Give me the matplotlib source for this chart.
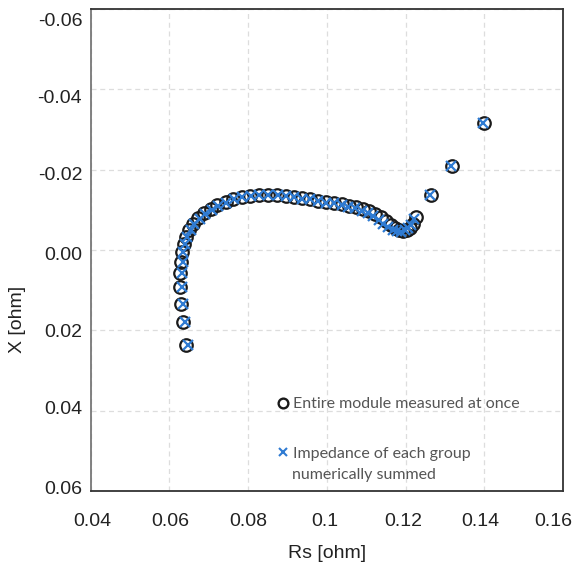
import matplotlib
matplotlib.use("Agg")
import matplotlib.pyplot as plt
import matplotlib.transforms as mtransforms
from matplotlib.lines import Line2D

# Entire module measured at once (circles)
rs_meas = [0.0643, 0.0636, 0.0631, 0.0628, 0.0628, 0.0631, 0.0633, 0.0638, 0.0643,
           0.0651, 0.0661, 0.0674, 0.0689, 0.0705, 0.0722, 0.0743, 0.0763, 0.0784,
           0.0806, 0.0827, 0.0850, 0.0873, 0.0896, 0.0916, 0.0937, 0.0957, 0.0977,
           0.0998, 0.1018, 0.1038, 0.1056, 0.1074, 0.1092, 0.1107, 0.1122, 0.1138,
           0.1150, 0.1163, 0.1173, 0.1184, 0.1194, 0.1204, 0.1212, 0.1219, 0.1227,
           0.1265, 0.1318, 0.1400]
x_meas = [0.0237, 0.0180, 0.0135, 0.0092, 0.0057, 0.0030, 0.0005, -0.0015, -0.0032,
          -0.0050, -0.0065, -0.0080, -0.0092, -0.0102, -0.0112, -0.0119, -0.0127, -0.0132,
          -0.0134, -0.0137, -0.0137, -0.0137, -0.0134, -0.0132, -0.0129, -0.0127, -0.0122,
          -0.0119, -0.0117, -0.0114, -0.0109, -0.0107, -0.0102, -0.0097, -0.0090, -0.0082,
          -0.0072, -0.0062, -0.0055, -0.0050, -0.0047, -0.0050, -0.0055, -0.0065, -0.0082,
          -0.0137, -0.0209, -0.0316]

# Impedance of each group numerically summed (crosses)
rs_sum = [0.0648, 0.0641, 0.0636, 0.0633, 0.0632, 0.0634, 0.0636, 0.0641, 0.0646,
          0.0654, 0.0664, 0.0677, 0.0692, 0.0708, 0.0725, 0.0745, 0.0765, 0.0786,
          0.0808, 0.0829, 0.0852, 0.0875, 0.0897, 0.0917, 0.0938, 0.0958, 0.0978,
          0.0999, 0.1019, 0.1038, 0.1055, 0.1072, 0.1089, 0.1104, 0.1118, 0.1132,
          0.1144, 0.1156, 0.1167, 0.1178, 0.1189, 0.1199, 0.1207, 0.1214, 0.1221,
          0.1262, 0.1315, 0.1396]
x_sum = [0.0237, 0.0180, 0.0135, 0.0092, 0.0057, 0.0030, 0.0005, -0.0015, -0.0032,
         -0.0049, -0.0064, -0.0078, -0.0090, -0.0100, -0.0110, -0.0118, -0.0126, -0.0131,
         -0.0134, -0.0136, -0.0137, -0.0136, -0.0134, -0.0131, -0.0128, -0.0126, -0.0121,
         -0.0118, -0.0116, -0.0112, -0.0107, -0.0104, -0.0098, -0.0092, -0.0084, -0.0075,
         -0.0065, -0.0057, -0.0050, -0.0047, -0.0046, -0.0049, -0.0054, -0.0062, -0.0076,
         -0.0137, -0.0209, -0.0316]

xticks = [0.04, 0.06, 0.08, 0.1, 0.12, 0.14, 0.16]
xticklabels = ["0.04", "0.06", "0.08", "0.1", "0.12", "0.14", "0.16"]
yticks = [-0.06, -0.04, -0.02, 0.0, 0.02, 0.04, 0.06]
yticklabels = ["-0.06", "-0.04", "-0.02", "0.00", "0.02", "0.04", "0.06"]

legend_labels = ["Entire module measured at once", "Impedance of each group"]
legend_extra = "numerically summed"

plt.rcParams['font.family'] = ['Liberation Sans', 'DejaVu Sans']

fig = plt.figure(figsize=(5.78, 5.68), dpi=100)
ax = fig.add_axes([90.5 / 578, 1 - 491 / 568, (563 - 90.5) / 578, (491 - 9) / 568])

ax.plot(rs_meas, x_meas, linestyle='none', marker='o', markersize=9,
        markerfacecolor='none', markeredgecolor='#1a1a1a', markeredgewidth=1.6, zorder=3)
ax.plot(rs_sum, x_sum, linestyle='none', marker='x', markersize=6.5,
        color='#2f7bd2', markeredgewidth=1.6, zorder=4)

ax.set_xlim(0.04, 0.16)
ax.set_ylim(0.06, -0.06)
ax.set_xticks(xticks)
ax.set_xticklabels(xticklabels)
ax.set_yticks(yticks)
ax.set_yticklabels(yticklabels)
ax.tick_params(axis='both', length=0, labelsize=14, colors='#222222')
ax.tick_params(axis='x', pad=16)
ax.tick_params(axis='y', pad=6)
ax.grid(True, linestyle=(0, (4, 3)), color='#dddddd', linewidth=0.9)
ax.set_axisbelow(True)
for side in ['top', 'right', 'bottom', 'left']:
    ax.spines[side].set_color('#333333')
    ax.spines[side].set_linewidth(1.3)
ax.spines['left'].set_color('#777777')

# small label shifts (pixels) to mimic the reference's tick label placement
x_label_shift = [1.5, 0.8, 0, -1.7, -2.5, -4.2, -9.5]
y_label_shift = [-11, -6.7, -4.3, -3, 0.3, 2.7, 4]
for lab, dx in zip(ax.get_xticklabels(), x_label_shift):
    lab.set_transform(lab.get_transform() +
                      mtransforms.ScaledTranslation(dx / 100, 0, fig.dpi_scale_trans))
for lab, dy in zip(ax.get_yticklabels(), y_label_shift):
    lab.set_transform(lab.get_transform() +
                      mtransforms.ScaledTranslation(0, dy / 100, fig.dpi_scale_trans))

ax.set_xlabel("Rs [ohm]", fontsize=14, color='#222222')
ax.set_ylabel("X [ohm]", fontsize=14, color='#222222')
ax.xaxis.set_label_coords(0.5, -0.129)
ax.xaxis.label.set_va('center')
ax.yaxis.set_label_coords(-0.155, 0.355)
ax.yaxis.label.set_va('center')

handles = [
    Line2D([], [], linestyle='none', marker='o', markersize=7, markerfacecolor='none',
           markeredgecolor='#1a1a1a', markeredgewidth=1.7),
    Line2D([], [], linestyle='none', marker='x', markersize=6, color='#2f7bd2',
           markeredgewidth=1.5),
]
leg_font = {'family': 'Lato', 'size': 11.5}
leg = ax.legend(handles, legend_labels, loc='upper left', bbox_to_anchor=(0.398, 0.195),
                frameon=False, handlelength=0.6, handletextpad=0.3, labelspacing=2.2,
                prop=leg_font, borderaxespad=0, borderpad=0)
for t in leg.get_texts():
    t.set_color('#555555')
ax.text(0.4265, 0.034, legend_extra, transform=ax.transAxes, ha='left', va='center',
        color='#555555', fontfamily='Lato', fontsize=11.5)

fig.savefig("out.png", dpi=100)
